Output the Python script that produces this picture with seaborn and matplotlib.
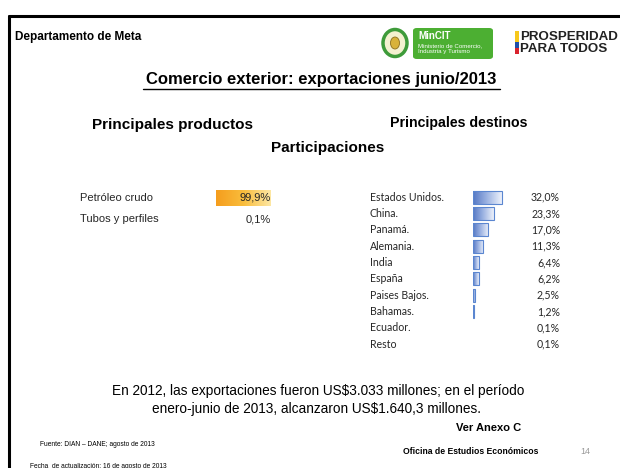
import matplotlib
matplotlib.use("Agg")
import matplotlib.pyplot as plt
import matplotlib.patches as mpatches
import matplotlib.transforms as mtransforms
import numpy as np
import pandas as pd
import seaborn as sns

# data
productos = ["Petróleo crudo", "Tubos y perfiles"]
prod_share = [99.9, 0.1]
prod_labels = ["99,9%", "0,1%"]

destinos = ["Estados Unidos.", "China.", "Panamá.", "Alemania.", "India",
            "España", "Paises Bajos.", "Bahamas.", "Ecuador.", "Resto"]
dest_share = [32.0, 23.3, 17.0, 11.3, 6.4, 6.2, 2.5, 1.2, 0.1, 0.1]
dest_labels = ["32,0%", "23,3%", "17,0%", "11,3%", "6,4%", "6,2%",
               "2,5%", "1,2%", "0,1%", "0,1%"]

sns.set_theme(style="white")
ARIAL = ["Liberation Sans", "DejaVu Sans"]
CALIBRI = ["Lato", "DejaVu Sans"]
plt.rcParams["font.family"] = ARIAL

W, H = 620, 468
fig = plt.figure(figsize=(W / 100, H / 100), dpi=100)


def fx(x):
    return x / W


def fy(y):
    return 1 - y / H


def txt(x, y, s, **kw):
    kw.setdefault("va", "center")
    kw.setdefault("color", "black")
    return fig.text(fx(x), fy(y), s, **kw)


# slide frame
fig.add_artist(plt.Line2D([fx(9), fx(9)], [fy(16), fy(470)], color="black", lw=2.2))
fig.add_artist(plt.Line2D([fx(9), fx(622)], [fy(16), fy(16)], color="black", lw=2.2))

# header
txt(15, 37, "Departamento de Meta", fontsize=8.5, fontweight="bold")

# logos (rough stand-ins)
fig.add_artist(mpatches.Ellipse((fx(395), fy(43)), 24 / W, 27 / H, facecolor="#f4f1d0",
                                edgecolor="#3e9b3a", lw=2.5))
fig.add_artist(mpatches.Ellipse((fx(395), fy(43)), 9 / W, 12 / H, facecolor="#d8b23a",
                                edgecolor="#8a6d1c", lw=0.6))
fig.add_artist(mpatches.FancyBboxPatch((fx(413), fy(59)), 80 / W, 31 / H,
                                       boxstyle="round,pad=0,rounding_size=0.006",
                                       facecolor="#4caf32", edgecolor="none"))
txt(418, 36, "MinCIT", fontsize=7, fontweight="bold", color="white")
txt(418, 46, "Ministerio de Comercio,", fontsize=4.4, color="white")
txt(418, 52, "Industria y Turismo", fontsize=4.4, color="white")
for y0, h, c in [(31, 11, "#f7c81b"), (42, 6, "#1f4fa8"), (48, 6, "#d9232e")]:
    fig.add_artist(mpatches.Rectangle((fx(515), fy(y0 + h)), 4 / W, h / H,
                                      facecolor=c, edgecolor="none"))
txt(520, 37, "PROSPERIDAD", fontsize=9.6, fontweight="bold", color="#222222")
txt(520, 49, "PARA TODOS", fontsize=9.6, fontweight="bold", color="#222222")

# title
txt(321, 79, "Comercio exterior: exportaciones junio/2013", fontsize=12,
    fontweight="bold", ha="center")
fig.add_artist(plt.Line2D([fx(143), fx(500)], [fy(89), fy(89)], color="black", lw=1))

txt(173, 125, "Principales productos", fontsize=11, fontweight="bold", ha="center")
txt(459, 123, "Principales destinos", fontsize=10.2, fontweight="bold", ha="center")
txt(328, 148, "Participaciones", fontsize=11, fontweight="bold", ha="center")


def gradient_bars(ax, cmap_colors, edge, min_w):
    cmap = matplotlib.colors.LinearSegmentedColormap.from_list("g", cmap_colors)
    xl, yl = ax.get_xlim(), ax.get_ylim()
    grad = np.linspace(0, 1, 256).reshape(1, -1)
    for p in ax.patches:
        x0, y0 = p.get_x(), p.get_y()
        w, h = p.get_width(), p.get_height()
        p.set_facecolor("none")
        if w < min_w:
            p.set_edgecolor("none")
            continue
        p.set_edgecolor(edge)
        p.set_linewidth(0.8)
        im = ax.imshow(grad, extent=[x0, x0 + w, y0 + h, y0], cmap=cmap,
                       aspect="auto", zorder=1, interpolation="bicubic")
        im.set_clip_path(p)
        p.set_zorder(2)
    ax.set_xlim(xl)
    ax.set_ylim(yl)


# productos
prod_df = pd.DataFrame({"producto": productos, "share": prod_share})
ax1 = fig.add_axes([fx(216), fy(229.5), 55 / W, 42 / H])
sns.barplot(data=prod_df, y="producto", x="share", orient="h", ax=ax1,
            width=0.72, color="#f7a823")
ax1.set_xlim(0, 100)
ax1.set_ylim(1.5, -0.5)
gradient_bars(ax1, ["#f59d1d", "#f9bd3c", "#fde7a4"], "none", 0.5)
ax1.axis("off")
tr1 = mtransforms.blended_transform_factory(fig.transFigure, ax1.transData)
for i, (name, lab) in enumerate(zip(productos, prod_labels)):
    ax1.text(fx(80), i, name, transform=tr1, fontsize=8, ha="left", va="center")
    ax1.text(fx(271), i, lab, transform=tr1, fontsize=8, ha="right", va="center")

# destinos
dest_df = pd.DataFrame({"destino": destinos, "share": dest_share})
ax2 = fig.add_axes([fx(473), fy(352.3), 90 / W, 163.3 / H])
sns.barplot(data=dest_df, y="destino", x="share", orient="h", ax=ax2,
            width=0.78, color="#6d8fd4")
ax2.set_xlim(0, 100)
ax2.set_ylim(9.5, -0.5)
gradient_bars(ax2, ["#5578c4", "#9fb5e3", "#eef2fb"], "#5b86d0", 0.5)
ax2.axis("off")
tr2 = mtransforms.blended_transform_factory(fig.transFigure, ax2.transData)
for i, (name, lab) in enumerate(zip(destinos, dest_labels)):
    ax2.text(fx(370), i, name, transform=tr2, fontsize=7.6, family=CALIBRI,
             ha="left", va="center")
    ax2.text(fx(560), i, lab, transform=tr2, fontsize=7.6, family=CALIBRI,
             ha="right", va="center")

# footer text
txt(318, 391, "En 2012, las exportaciones fueron US$3.033 millones; en el período",
    fontsize=9.8, ha="center")
txt(316, 409, "enero-junio de 2013, alcanzaron US$1.640,3 millones.",
    fontsize=9.8, ha="center")
txt(489, 428, "Ver Anexo C", fontsize=8, fontweight="bold", ha="center")
txt(40, 444, "Fuente: DIAN – DANE; agosto de 2013", fontsize=4.8)
txt(471, 452, "Oficina de Estudios Económicos", fontsize=6.2, fontweight="bold",
    ha="center")
txt(585, 451, "14", fontsize=6.5, color="#9a9a9a", ha="center")
txt(30, 466, "Fecha  de actualización: 16 de agosto de 2013", fontsize=4.8)

fig.savefig("out.png", dpi=100)
